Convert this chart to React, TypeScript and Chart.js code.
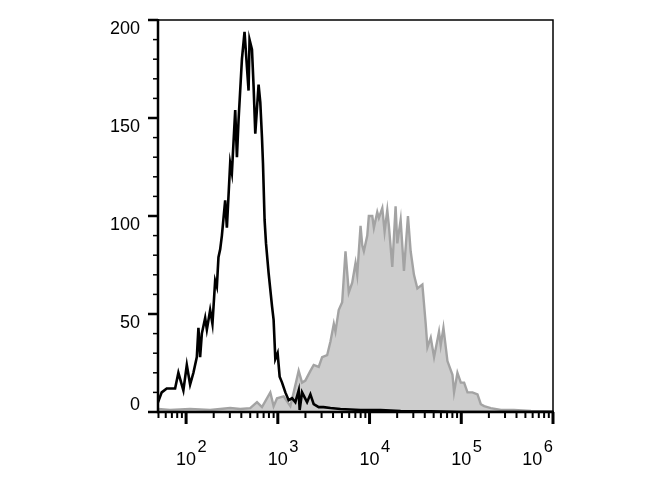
import React, { useEffect, useRef } from "react";
import { Chart, registerables } from "chart.js";

Chart.register(...registerables);

// Control (unstained) histogram – black outline
const CTRL_X = [49.4, 54.2, 61.5, 75.9, 82.4, 93.4, 101.8, 110.6, 120.2, 130.9, 136.3, 142.2, 148.5, 161.4, 168.4, 182.9, 193.8, 207.4, 216.5, 225.4, 235.3, 245.6, 266.7, 278.4, 302.4, 315.7, 343.2, 358.3, 373.3, 406.2, 433.6, 460.6, 479.8, 491.8, 522.6, 544.5, 567.9, 616.9, 644.0, 671.9, 688.9, 717.3, 743.4, 793.2, 864.4, 899.6, 939.3, 995.2, 1047, 1112, 1208, 1313, 1430, 1553, 1688, 1730, 1837, 2084, 2265, 2462, 2791, 3143, 3748, 4819, 7980, 13190, 21830, 46470, 98900, 1000000];
const CTRL_Y = [5, 10, 12, 12, 20, 11, 24, 14, 20, 28, 43, 28, 40, 48, 42, 52, 45, 67, 64, 79, 83, 90, 108, 94, 127, 122, 154, 130, 149, 180, 194, 176, 164, 190, 185, 166, 142, 167, 158, 140, 127, 98, 86, 71, 54, 47, 27, 30, 18, 15, 10, 6, 7, 5, 11, 1, 10, 5, 9, 4, 2.5, 2.5, 2, 1.5, 1, 1, 0.5, 0.3, 0, 0];

// Stained histogram – gray filled
const STAIN_X = [49.4, 66.8, 110.6, 182.9, 302.4, 389, 500, 593, 672, 828, 900, 980, 1157, 1370, 1490, 1688, 1837, 1995, 2265, 2462, 2791, 3040, 3450, 3748, 4077, 4250, 4613, 5031, 5468, 5941, 6472, 7034, 7340, 7980, 8325, 8668, 9445, 9825, 10710, 11150, 12140, 12640, 13770, 14590, 15610, 16250, 17700, 19230, 20080, 21830, 23720, 26230, 28070, 30500, 33210, 37660, 40950, 42750, 46470, 50510, 57190, 59690, 63910, 70680, 80150, 83430, 90800, 98900, 107400, 116900, 132500, 150300, 163300, 177500, 210000, 270300, 374800, 575000, 1000000];
const STAIN_Y = [1.5, 1, 1.5, 1, 2, 1.5, 2, 5, 2.5, 10, 3, 7, 8, 3, 10, 21, 15, 16, 21, 24, 23, 28, 29, 36, 45, 41, 52, 56, 82, 61, 66, 76, 70, 95, 85, 82, 90, 100, 100, 94, 102, 99, 104, 92, 103, 95, 74, 105, 86, 98, 72, 100, 82, 70, 63, 65, 45, 33, 38, 28, 41, 34, 43, 26, 19, 10, 20, 15, 15, 10, 10, 9, 4, 3, 2, 1, 1, 0.5, 0.3];

const Y_TICKS = [0, 50, 100, 150, 200];
const Y_MINOR_STEP = 10;
const X_DECADES = [2, 3, 4, 5, 6];
const X_MIN = 49.4;
const X_MAX = 1000000;
const Y_MAX = 200;

const FONT = '"Liberation Sans", Arial, sans-serif';

const axesPlugin = {
  id: "flowAxes",
  afterDatasetsDraw(chart: any) {
    const { ctx, chartArea } = chart;
    const { left, right, top, bottom } = chartArea;
    const xs = chart.scales.x;
    const ys = chart.scales.y;
    ctx.save();
    ctx.strokeStyle = "#000";
    ctx.fillStyle = "#000";
    ctx.lineCap = "butt";

    // frame top/right
    ctx.lineWidth = 1.5;
    ctx.beginPath();
    ctx.moveTo(left, top);
    ctx.lineTo(right, top);
    ctx.lineTo(right, bottom);
    ctx.stroke();

    // left & bottom axes
    ctx.lineWidth = 2.5;
    ctx.beginPath();
    ctx.moveTo(left, top - 1);
    ctx.lineTo(left, bottom);
    ctx.lineTo(right + 1, bottom);
    ctx.stroke();

    // y ticks
    for (let v = 0; v <= Y_MAX; v += Y_MINOR_STEP) {
      const py = ys.getPixelForValue(v);
      const major = Y_TICKS.includes(v);
      ctx.lineWidth = major ? 2.5 : 1.5;
      ctx.beginPath();
      ctx.moveTo(left - (major ? 10 : 5), py);
      ctx.lineTo(left, py);
      ctx.stroke();
    }
    ctx.font = `18px ${FONT}`;
    ctx.textAlign = "right";
    ctx.textBaseline = "middle";
    for (const v of Y_TICKS) {
      const py = ys.getPixelForValue(v);
      const off = v === 0 ? -7 : 9;
      ctx.fillText(String(v), left - 18, py + off);
    }

    // x ticks (log)
    for (let d = 1; d <= 6; d++) {
      for (let m = 1; m <= 9; m++) {
        const val = m * Math.pow(10, d);
        if (val < X_MIN - 1 || val > X_MAX) continue;
        const px = xs.getPixelForValue(val);
        const major = m === 1;
        ctx.lineWidth = major ? 3 : 2;
        ctx.beginPath();
        ctx.moveTo(px, bottom);
        ctx.lineTo(px, bottom + (major ? 12 : 6));
        ctx.stroke();
      }
    }

    // x labels 10^n
    const bigFont = `18px ${FONT}`;
    const supFont = `16.5px ${FONT}`;
    ctx.textAlign = "left";
    ctx.textBaseline = "alphabetic";
    for (const e of X_DECADES) {
      const px = xs.getPixelForValue(Math.pow(10, e));
      ctx.font = bigFont;
      const w10 = ctx.measureText("10").width;
      ctx.font = supFont;
      const wsup = ctx.measureText(String(e)).width;
      const gap = 1.5;
      let start = px - w10 / 2;
      if (start + w10 + gap + wsup > right) start = right - (w10 + gap + wsup);
      ctx.font = bigFont;
      ctx.fillText("10", start, bottom + 53);
      ctx.font = supFont;
      ctx.fillText(String(e), start + w10 + gap, bottom + 40);
    }
    ctx.restore();
  },
};

export default function App() {
  const ref = useRef<HTMLCanvasElement | null>(null);
  useEffect(() => {
    if (!ref.current) return;
    const chart = new Chart(ref.current, {
      type: "line",
      data: {
        datasets: [
          {
            label: "Control",
            data: CTRL_X.map((x, i) => ({ x, y: CTRL_Y[i] })),
            borderColor: "#000000",
            borderWidth: 2.6,
            pointRadius: 0,
            tension: 0,
            fill: false,
            order: 1,
          },
          {
            label: "Stained",
            data: STAIN_X.map((x, i) => ({ x, y: STAIN_Y[i] })),
            borderColor: "#a3a3a3",
            backgroundColor: "#cdcdcd",
            borderWidth: 2.4,
            pointRadius: 0,
            tension: 0,
            fill: "origin",
            order: 2,
          },
        ],
      },
      options: {
        animation: false,
        responsive: false,
        maintainAspectRatio: false,
        layout: { padding: { left: 158, right: 117, top: 20, bottom: 88 } },
        plugins: { legend: { display: false }, tooltip: { enabled: false }, title: { display: false } },
        scales: {
          x: { type: "logarithmic", min: X_MIN, max: X_MAX, display: false },
          y: { type: "linear", min: 0, max: Y_MAX, display: false },
        },
      },
      plugins: [axesPlugin],
    });
    return () => chart.destroy();
  }, []);
  return (
    <div style={{ position: "absolute", left: 0, top: 0, width: 670, height: 500, background: "#fff" }}>
      <canvas ref={ref} width={670} height={500} />
    </div>
  );
}
